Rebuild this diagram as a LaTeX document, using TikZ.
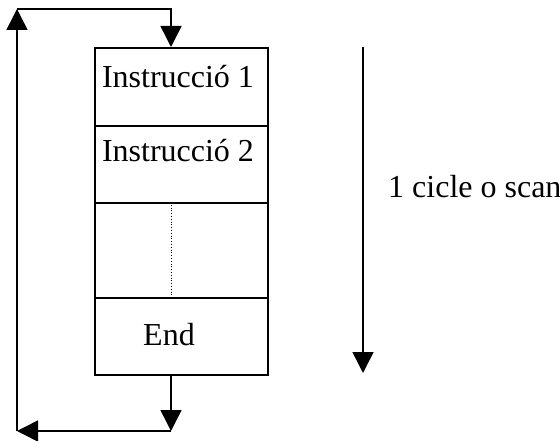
\documentclass[tikz,border=0pt]{standalone}
\usepackage{fontspec}
\setmainfont{Liberation Serif}
\usetikzlibrary{arrows.meta}
\begin{document}
\begin{tikzpicture}[x=1pt,y=-1pt,
  rowbox/.style={draw,line width=1.6pt,minimum width=173pt,inner sep=0pt,anchor=north west},
  lbl/.style={font=\fontsize{32}{38}\selectfont,inner sep=0pt,anchor=base},
  conn/.style={line width=1.5pt,-{Triangle[length=21pt,width=21pt]}}]
\useasboundingbox (0,0) rectangle (560,441);
% boxes
\node[rowbox,minimum height=78pt] (row1) at (94,47) {};
\node[rowbox,minimum height=77pt] (row2) at (94,125) {};
\node[rowbox,minimum height=95pt] (row3) at (94,202) {};
\node[rowbox,minimum height=77pt] (row4) at (94,297) {};
% texts
\node[lbl] (t1) at (178,88) {Instrucció 1};
\node[lbl] (t2) at (178,162) {Instrucció 2};
\node[lbl] (t4) at (169,345) {End};
\node[lbl,anchor=base west] (t5) at (388,197) {1 cicle o scan};
% loop
\coordinate (bl) at (171,431);
\coordinate (ll) at (17,431);
\coordinate (tl) at (17,9);
\coordinate (tr) at (171,9);
\draw[line width=0.8pt,dotted] (tr |- row3.north) -- (tr |- row3.south);
\draw[conn] (bl |- row4.south) -- (bl);
\draw[conn] (bl) -- (ll);
\draw[conn] (ll) -- (tl);
\draw[conn] (tl) -- (tr) -- (tr |- row1.north);
% right arrow
\coordinate (ra) at (363,47);
\coordinate (rb) at (363,373);
\draw[conn] (ra) -- (rb);
\end{tikzpicture}
\end{document}
